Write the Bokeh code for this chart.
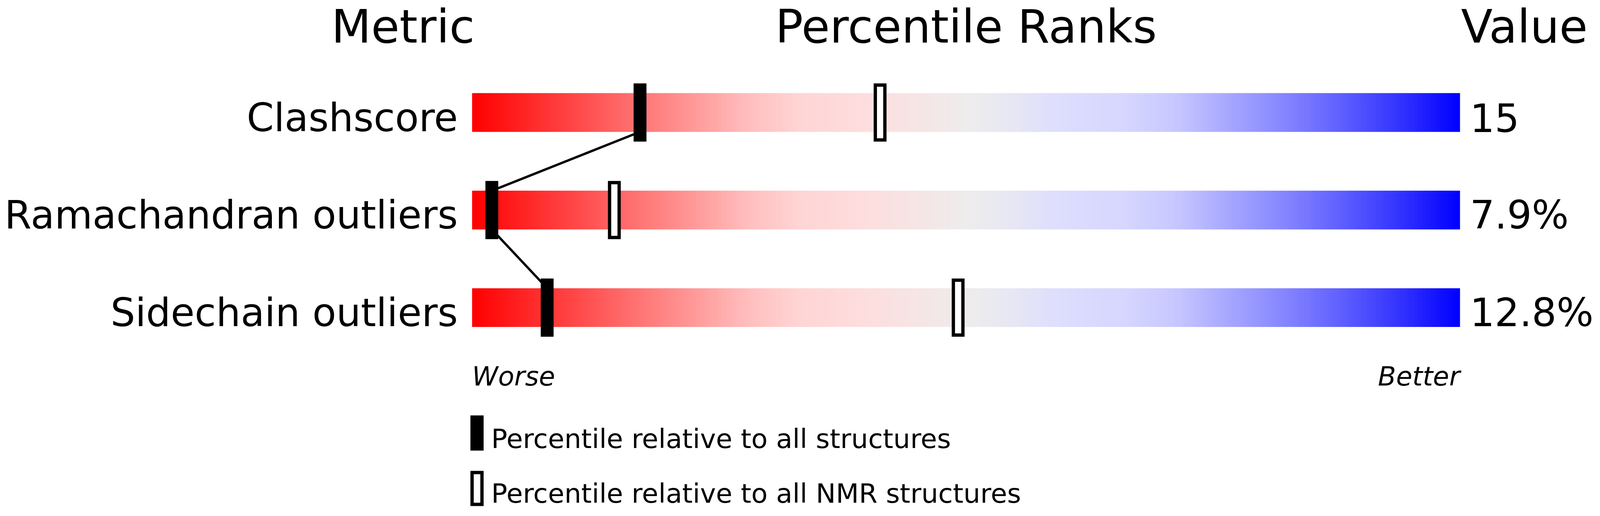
import numpy as np
from bokeh.plotting import figure
from bokeh.models import Range1d
from bokeh.core.properties import value
from bokeh.embed import file_html
from bokeh.resources import INLINE

# data
metrics = ["Clashscore", "Ramachandran outliers", "Sidechain outliers"]
values = ["15", "7.9%", "12.8%"]
pct_all = [17, 2, 7.6]       # percentile vs all structures (filled marker)
pct_nmr = [41.3, 14.4, 49.2]  # percentile vs NMR structures (open marker)

headers = ["Metric", "Percentile Ranks", "Value"]
ends = ["Worse", "Better"]
legend_labels = ["Percentile relative to all structures",
                 "Percentile relative to all NMR structures"]

# the photographed page is about 4100 x 1321 css px; horizontal sizes
# measured on the 4858 px wide reference are divided by K
K = 1.185
W, H = 4084, 1305


def px(v):
    return v / K


def py(v):
    # reference y -> plot y (counts down from the top of the figure)
    return v - 8


def tb(v, size):
    # text baseline: the svg text comes out about 0.38 em lower than asked
    return py(v) - 0.38 * px(size)


BAR_LEFT = px(1441) - 8
PX = px(29.97)            # pixels per percentile point
ROW0, ROW_STEP = 295.5, 249.75
BAR_H = 99
LW = px(10)
FONT = value("DejaVu Sans")


def fs(v):
    return "%.1fpx" % px(v)


# red -> grey -> blue colour stops of the slider
stop_pos = [0, 8, 16, 22, 28, 33, 40, 46, 50, 54, 59, 66, 71, 76, 82, 88, 94, 100]
stop_rgb = [(255, 0, 0), (255, 55, 55), (255, 110, 110), (255, 150, 150),
            (255, 190, 190), (255, 212, 212), (253, 222, 222), (245, 230, 230),
            (238, 236, 236), (232, 232, 242), (222, 222, 253), (214, 214, 255),
            (200, 200, 255), (170, 170, 255), (135, 135, 255), (95, 95, 255),
            (50, 50, 255), (0, 0, 255)]

p = figure(width=W, height=H,
           x_range=Range1d(-BAR_LEFT / PX, (W - BAR_LEFT) / PX),
           y_range=Range1d(H, 0),
           x_axis_location=None, y_axis_location=None,
           output_backend="svg", toolbar_location=None, min_border=0)
p.grid.visible = False
p.outline_line_color = None

ref_y = ROW0 + ROW_STEP * np.arange(len(metrics))
rows_y = py(ref_y)
half = BAR_H / 2

# gradient bars
n = 600
edges = np.linspace(0, 100, n + 1)
mid = (edges[:-1] + edges[1:]) / 2
chan = [np.interp(mid, stop_pos, [c[k] for c in stop_rgb]) for k in range(3)]
cols = ["#%02x%02x%02x" % (int(round(r)), int(round(g)), int(round(b)))
        for r, g, b in zip(*chan)]
right = np.minimum(edges[1:] + 0.12, 100)
for y in rows_y:
    p.quad(left=edges[:-1], right=right, top=y - half, bottom=y + half,
           fill_color=cols, line_color=None)

# line joining the filled markers
p.segment(x0=pct_all[:-1], y0=rows_y[:-1] + half,
          x1=pct_all[1:], y1=rows_y[1:] - half,
          line_color="black", line_width=6)

mk = dict(width=px(39) - LW, height=149 - LW, width_units="screen",
          height_units="screen", line_color="black", line_width=LW,
          line_join="miter")
p.rect(x=pct_nmr, y=rows_y, fill_color="white", **mk)
p.rect(x=pct_all, y=rows_y, fill_color="black", **mk)

# texts
p.text(x=[0, 50, 100], y=[tb(120, 140)] * 3, text=headers,
       text_align=["right", "center", "left"], x_offset=[px(8), 0, px(3)],
       text_baseline="alphabetic", text_font=FONT, text_font_size=fs(140),
       text_color="black")
p.text(x=0, y=tb(ref_y + 51, 118), text=metrics, text_align="right",
       x_offset=px(-43), text_baseline="alphabetic", text_font=FONT,
       text_font_size=fs(118), text_color="black")
p.text(x=100, y=tb(ref_y + 51, 118), text=values, text_align="left",
       x_offset=px(30), text_baseline="alphabetic", text_font=FONT,
       text_font_size=fs(118), text_color="black")
p.text(x=[0, 100], y=[tb(997, 80)] * 2, text=ends, text_align=["left", "right"],
       text_baseline="alphabetic", text_font=FONT, text_font_size=fs(80),
       text_font_style="italic", text_color="black")

# legend
p.rect(x=[0.5, 0.5], y=[py(1116), py(1258)], width=px(40) - LW, height=90 - LW,
       width_units="screen", height_units="screen",
       fill_color=["black", "white"], line_color="black", line_width=LW,
       line_join="miter")
p.text(x=[1.94, 1.94], y=[tb(1157, 81), tb(1297, 81)], text=legend_labels,
       text_align="left", text_baseline="alphabetic", text_font=FONT,
       text_font_size=fs(81), text_color="black")

open("out.html", "w").write(file_html(p, INLINE))
